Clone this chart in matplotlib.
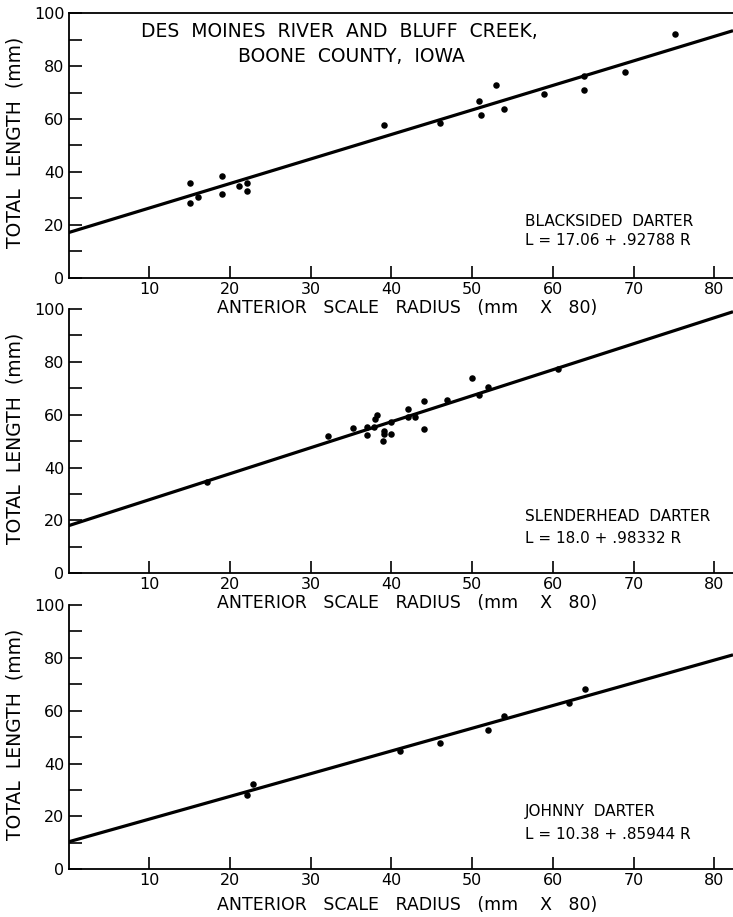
import matplotlib
matplotlib.use("Agg")
import matplotlib.pyplot as plt
import numpy as np

# ---------------- data ----------------
species = ["BLACKSIDED  DARTER", "SLENDERHEAD  DARTER", "JOHNNY  DARTER"]
equations = ["L = 17.06 + .92788 R", "L = 18.0 + .98332 R", "L = 10.38 + .85944 R"]
intercepts = [17.06, 18.0, 10.38]
slopes = [0.92788, 0.98332, 0.85944]

blacksided_r = [15.1, 15.1, 16.0, 19.0, 19.0, 21.1, 22.1, 22.1, 39.1, 46.0,
                50.9, 51.1, 52.9, 53.9, 58.9, 63.9, 63.9, 68.9, 75.1]
blacksided_l = [35.7, 28.4, 30.6, 38.6, 31.7, 34.7, 35.9, 32.9, 57.8, 58.4,
                66.8, 61.5, 72.9, 63.7, 69.5, 76.3, 70.9, 77.9, 92.2]

slenderhead_r = [17.1, 32.2, 35.2, 37.0, 37.0, 37.8, 38.0, 38.2, 39.1, 39.1,
                 38.9, 39.9, 39.9, 42.0, 42.0, 42.9, 44.0, 44.0, 46.9, 50.0,
                 50.8, 52.0, 60.6]
slenderhead_l = [34.6, 51.8, 55.1, 52.3, 55.2, 55.2, 58.3, 59.8, 53.9, 52.7,
                 50.1, 57.1, 52.6, 62.1, 59.0, 59.3, 65.0, 54.5, 65.5, 73.7,
                 67.6, 70.3, 77.3]

johnny_r = [22.1, 22.9, 41.0, 46.0, 52.0, 53.9, 62.0, 64.0]
johnny_l = [28.1, 32.2, 44.9, 47.9, 52.5, 57.8, 62.8, 68.1]

points_r = [blacksided_r, slenderhead_r, johnny_r]
points_l = [blacksided_l, slenderhead_l, johnny_l]

title_lines = ["DES  MOINES  RIVER  AND  BLUFF  CREEK,", "BOONE  COUNTY,  IOWA"]
x_ticks = [10, 20, 30, 40, 50, 60, 70, 80]
y_ticks = [0, 20, 40, 60, 80, 100]
y_minor = [10, 30, 50, 70, 90]
xlabel = "ANTERIOR   SCALE   RADIUS   (mm    X   80)"
ylabel = "TOTAL  LENGTH  (mm)"

# ---------------- figure ----------------
plt.rcParams['font.family'] = ['DejaVu Sans']
fig = plt.figure(figsize=(7.33, 9.17), dpi=100)

left = 68.5 / 733
width = 1 - left
H = 917.0
bottoms_px = [277.7, 573.3, 869.3]
height = 264.4 / H
xmax = 82.3
xlabel_offsets = [-0.113, -0.113, -0.135]
ann_pos = [(21.2, 14.0), (21.5, 13.1), (21.7, 13.3)]

for i in range(3):
    ax = fig.add_axes([left, 1 - bottoms_px[i] / H, width, height])
    ax.patch.set_visible(False)
    ax.set_xlim(0, xmax)
    ax.set_ylim(0, 100)

    xs = np.array([0, xmax])
    ax.plot(xs, intercepts[i] + slopes[i] * xs, color="black", lw=2.3,
            solid_capstyle="butt", zorder=3)
    ax.scatter(points_r[i], points_l[i], s=22, color="black", zorder=4,
               linewidths=0)

    ax.spines["right"].set_visible(False)
    if i > 0:
        ax.spines["top"].set_visible(False)
    for s in ax.spines.values():
        s.set_linewidth(1.3)

    ax.set_xticks(x_ticks)
    ax.set_xticklabels([str(t) for t in x_ticks])
    ax.set_yticks(y_ticks)
    ax.set_yticklabels([str(t) for t in y_ticks])
    ax.set_yticks(y_minor, minor=True)
    ax.tick_params(axis="both", which="both", direction="in", length=9,
                   width=1.2, labelsize=11.5, top=False, right=False)
    ax.tick_params(axis="x", pad=3)
    ax.tick_params(axis="y", pad=3)

    yl = ax.set_ylabel(ylabel, fontsize=13.5)
    yl.set_va("center")
    ax.yaxis.set_label_coords(-0.081, 0.51)

    ax.text(0.51, xlabel_offsets[i], xlabel, transform=ax.transAxes,
            ha="center", va="center", fontsize=12.5)

    ax.text(56.5, ann_pos[i][0], species[i], ha="left", va="center", fontsize=11)
    ax.text(56.5, ann_pos[i][1], equations[i], ha="left", va="center", fontsize=11)

    if i == 0:
        ax.text(33.6, 93.0, title_lines[0], ha="center", va="center", fontsize=13.5)
        ax.text(35.0, 83.6, title_lines[1], ha="center", va="center", fontsize=13.5)

fig.savefig("out.png", dpi=100)
